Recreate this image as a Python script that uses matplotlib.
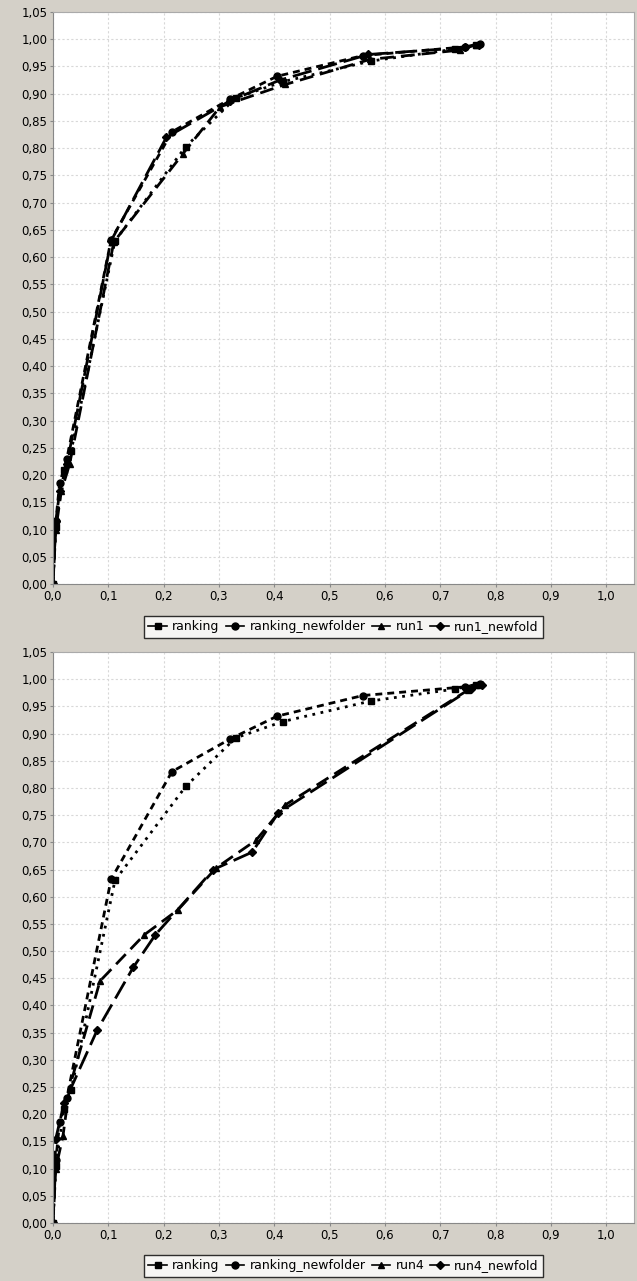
import matplotlib
matplotlib.use("Agg")
import matplotlib.pyplot as plt
from matplotlib.ticker import FuncFormatter

# Data
ranking_x = [0.0, 0.005, 0.02, 0.033, 0.112, 0.24, 0.33, 0.415, 0.575, 0.727, 0.765]
ranking_y = [0.0, 0.105, 0.21, 0.245, 0.63, 0.803, 0.892, 0.922, 0.96, 0.982, 0.99]

newfolder_x = [0.0, 0.005, 0.012, 0.025, 0.105, 0.215, 0.32, 0.405, 0.56, 0.745, 0.772]
newfolder_y = [0.0, 0.115, 0.185, 0.23, 0.632, 0.83, 0.89, 0.932, 0.97, 0.986, 0.992]

run1_x = [0.0, 0.005, 0.015, 0.03, 0.11, 0.235, 0.302, 0.42, 0.573, 0.735, 0.765]
run1_y = [0.0, 0.10, 0.17, 0.22, 0.628, 0.79, 0.876, 0.917, 0.963, 0.98, 0.99]

run1_nf_x = [0.0, 0.005, 0.012, 0.025, 0.105, 0.205, 0.32, 0.41, 0.57, 0.745, 0.77]
run1_nf_y = [0.0, 0.115, 0.17, 0.22, 0.63, 0.82, 0.887, 0.925, 0.972, 0.985, 0.99]

run4_x = [0.0, 0.005, 0.018, 0.03, 0.085, 0.165, 0.226, 0.295, 0.367, 0.42, 0.75, 0.77]
run4_y = [0.0, 0.10, 0.16, 0.25, 0.445, 0.53, 0.576, 0.653, 0.704, 0.769, 0.98, 0.99]

run4_nf_x = [0.0, 0.005, 0.02, 0.08, 0.145, 0.185, 0.29, 0.36, 0.407, 0.755, 0.775]
run4_nf_y = [0.0, 0.155, 0.22, 0.355, 0.47, 0.53, 0.65, 0.682, 0.754, 0.982, 0.99]

BG = "#d4d0c8"

# line style per kind of series (Java-chart look: dotted / dashed / long dashed)
styles = {
    "ranking": dict(ls=(0, (1, 2)), marker="s"),
    "ranking_newfolder": dict(ls=(0, (2.5, 1.8)), marker="o"),
    "run": dict(ls=(0, (5, 2.5)), marker="^"),
    "run_newfold": dict(ls=(0, (7, 2.5)), marker="D"),
}


def comma(fmt):
    return FuncFormatter(lambda v, _: format(v, fmt).replace(".", ","))


def draw_panel(ax, series):
    ax.set_facecolor("white")
    for label, x, y, key in series:
        st = styles[key]
        ms = 4 if st["marker"] == "D" else 5
        ax.plot(x, y, color="black", lw=2.0, linestyle=st["ls"], marker=st["marker"],
                markersize=ms, label=label)
    ax.set_xlim(0, 1.05)
    ax.set_ylim(0, 1.05)
    ax.set_xticks([i / 10 for i in range(11)])
    ax.set_yticks([i / 20 for i in range(22)])
    ax.xaxis.set_major_formatter(comma(".1f"))
    ax.yaxis.set_major_formatter(comma(".2f"))
    ax.grid(True, color="#d8d8d8", ls=(0, (2, 2)), lw=0.8)
    ax.tick_params(labelsize=8.5, length=2, color="#888888", pad=2)
    for s in ["top", "right"]:
        ax.spines[s].set_color("#aaaaaa")
    for s in ["left", "bottom"]:
        ax.spines[s].set_color("#888888")
    leg = ax.legend(loc="upper center", bbox_to_anchor=(0.5, -0.045), ncol=4,
                    frameon=True, fancybox=False, fontsize=9, handlelength=1.5,
                    handletextpad=0.4, columnspacing=0.5, borderpad=0.35)
    leg.get_frame().set_edgecolor("black")
    leg.get_frame().set_linewidth(1.0)
    for h in leg.legend_handles:
        h.set_linestyle("-")
        h.set_linewidth(1.2)


fig = plt.figure(figsize=(6.37, 12.81), dpi=100, facecolor=BG)
ax1 = fig.add_axes([53 / 637, 697 / 1281, 581 / 637, 572 / 1281])
ax2 = fig.add_axes([53 / 637, 58 / 1281, 581 / 637, 571 / 1281])

draw_panel(ax1, [
    ("ranking", ranking_x, ranking_y, "ranking"),
    ("ranking_newfolder", newfolder_x, newfolder_y, "ranking_newfolder"),
    ("run1", run1_x, run1_y, "run"),
    ("run1_newfold", run1_nf_x, run1_nf_y, "run_newfold"),
])
draw_panel(ax2, [
    ("ranking", ranking_x, ranking_y, "ranking"),
    ("ranking_newfolder", newfolder_x, newfolder_y, "ranking_newfolder"),
    ("run4", run4_x, run4_y, "run"),
    ("run4_newfold", run4_nf_x, run4_nf_y, "run_newfold"),
])

fig.savefig("out.png", dpi=100, facecolor=BG)
